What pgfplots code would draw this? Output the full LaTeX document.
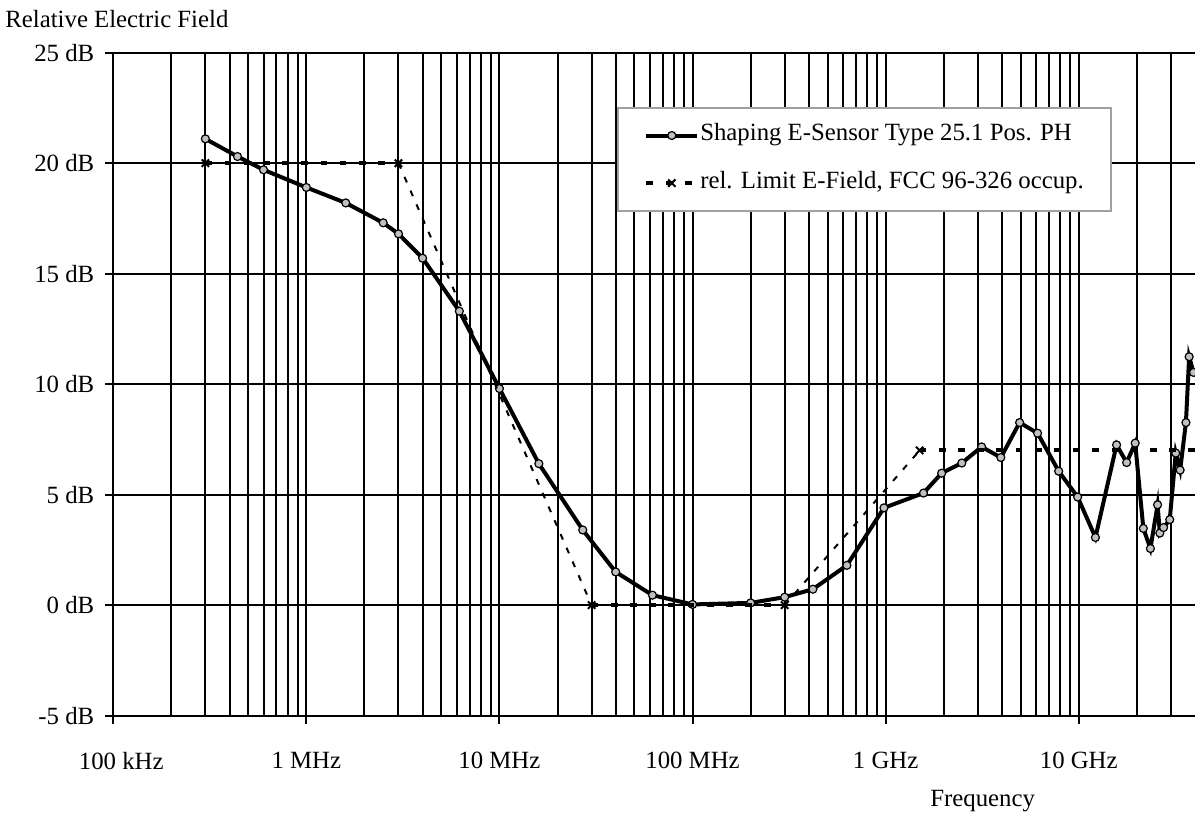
\documentclass[border=0pt]{standalone}
\usepackage{fontspec}
\setmainfont{Liberation Serif}
\usepackage{pgfplots}
\pgfplotsset{compat=1.18}
\newcommand{\chartfont}{\fontsize{12.4pt}{15pt}\selectfont}
\definecolor{markgray}{HTML}{C0C0C0}
\definecolor{legendgray}{HTML}{A0A0A0}

\begin{document}
\begin{tikzpicture}
\begin{axis}[
  scale only axis,
  width=541.2pt, height=331.65pt,
  clip mode=individual,
  xmode=log, xmin=1e5, xmax=4e10,
  ymin=-5, ymax=25,
  axis x line*=bottom, axis y line*=left,
  axis line style={black, line width=1pt},
  xtick={1e5,1e6,1e7,1e8,1e9,1e10},
  xticklabels={\hspace{8pt}100 kHz,1 MHz,10 MHz,100 MHz,1 GHz,10 GHz},
  minor xtick={2e5,3e5,4e5,5e5,6e5,7e5,8e5,9e5,
               2e6,3e6,4e6,5e6,6e6,7e6,8e6,9e6,
               2e7,3e7,4e7,5e7,6e7,7e7,8e7,9e7,
               2e8,3e8,4e8,5e8,6e8,7e8,8e8,9e8,
               2e9,3e9,4e9,5e9,6e9,7e9,8e9,9e9,
               2e10,3e10},
  ytick={-5,0,5,10,15,20,25},
  yticklabels={-5 dB,0 dB,5 dB,10 dB,15 dB,20 dB,25 dB},
  tick align=outside, major tick length=4pt, minor tick length=0pt,
  tick style={black, line width=1pt},
  xmajorgrids, xminorgrids, ymajorgrids,
  grid style={black, line width=1pt},
  minor grid style={black, line width=1pt},
  every tick label/.append style={font=\chartfont},
  xticklabel style={yshift=-10.7pt},
  yticklabel style={xshift=-2pt},
  legend cell align=left,
  legend style={at={(0.466,0.918)}, anchor=north west, draw=legendgray,
    line width=1pt, fill=white, font=\chartfont,
    inner xsep=13pt, inner ysep=6.75pt, row sep=9.8pt,
    nodes={inner xsep=0.5pt, inner ysep=2pt, text height=0.75em, text depth=0.25em}},
  legend image code/.code={\draw[#1, mark indices={2}]
    plot coordinates {(0pt,0pt) (12.75pt,0pt) (25.5pt,0pt)};},
]
\addplot[black, line width=2pt, mark=*, mark size=2pt,
  mark options={fill=markgray, draw=black, line width=0.6pt, solid}]
  coordinates {
  (3e5,21.1) (4.4e5,20.3) (6e5,19.7) (1e6,18.9) (1.6e6,18.2) (2.5e6,17.3)
  (3e6,16.8) (4e6,15.7) (6.2e6,13.3) (1e7,9.8) (1.6e7,6.4) (2.7e7,3.4)
  (4e7,1.5) (6.2e7,0.45) (1e8,0.03) (2e8,0.1) (3e8,0.36) (4.2e8,0.72)
  (6.3e8,1.8) (9.8e8,4.4) (1.57e9,5.07) (1.95e9,5.97) (2.48e9,6.43)
  (3.14e9,7.16) (3.95e9,6.68) (4.94e9,8.26) (6.12e9,7.78) (7.87e9,6.06)
  (9.87e9,4.89) (1.22e10,3.06) (1.57e10,7.25) (1.77e10,6.45) (1.96e10,7.33)
  (2.16e10,3.47) (2.35e10,2.56) (2.56e10,4.54) (2.63e10,3.26) (2.75e10,3.51)
  (2.96e10,3.87) (3.18e10,6.88) (3.35e10,6.11) (3.59e10,8.26)
  (3.73e10,11.24) (3.93e10,10.53)
  };
\addlegendentry{Shaping E-Sensor Type 25.1 Pos. PH}
% limit line: flat parts heavy dashes, slopes thin dashes
\addplot[black, line width=2pt, dash pattern=on 3.4pt off 6.2pt,
  mark=x, mark size=2.6pt, mark options={solid, line width=1pt}]
  coordinates {(3e5,20) (3e6,20)};
\addlegendentry{rel. Limit E-Field, FCC 96-326 occup.\hspace{6pt}}
\addplot[forget plot, black, line width=1pt, dash pattern=on 3pt off 4.5pt]
  coordinates {(3e6,20) (3e7,0)};
\addplot[forget plot, black, line width=2pt, dash pattern=on 3.4pt off 6.2pt,
  mark=x, mark size=2.6pt, mark options={solid, line width=1pt}]
  coordinates {(3e7,0) (3e8,0)};
\addplot[forget plot, black, line width=1pt, dash pattern=on 3pt off 4.5pt]
  coordinates {(3e8,0) (1.5e9,7)};
\addplot[forget plot, black, line width=2pt, dash pattern=on 3.4pt off 6.2pt,
  mark=x, mark size=2.6pt, mark options={solid, line width=1pt},
  mark indices={1}]
  coordinates {(1.5e9,7) (1e11,7)};
\coordinate (sw) at (rel axis cs:0,0);
\coordinate (ne) at (rel axis cs:1,1);
\node[anchor=base west, font=\chartfont, inner sep=0pt]
  at ([xshift=-54.15pt, yshift=12.35pt]rel axis cs:0,1) {Relative Electric Field};
\node[anchor=base east, font=\chartfont, inner sep=0pt]
  at ([xshift=1.5pt, yshift=-45.5pt]rel axis cs:0.8497,0) {Frequency};
\end{axis}
\pgfresetboundingbox
\path[use as bounding box] ([xshift=-56.65pt, yshift=-50pt]sw) rectangle ([yshift=26.35pt]ne);
\end{tikzpicture}
\end{document}
